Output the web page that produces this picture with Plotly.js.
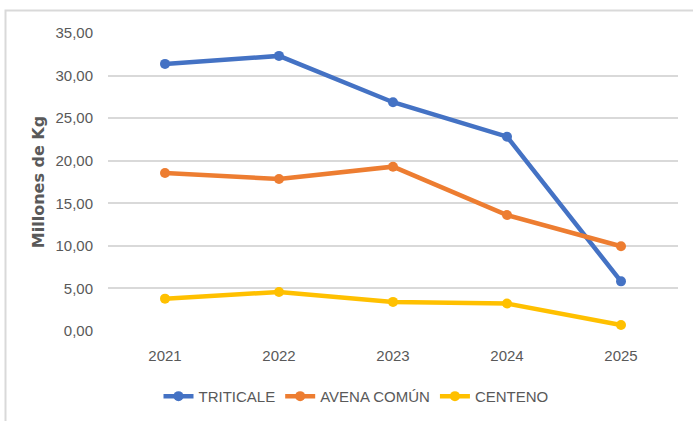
<!DOCTYPE html>
<html>
<head>
<meta charset="utf-8">
<script src="https://cdn.plot.ly/plotly-3.0.1.min.js"></script>
<style>
  html, body { margin: 0; padding: 0; background: #fff; }
  #chart { width: 693px; height: 421px; }
</style>
</head>
<body>
<div id="chart"></div>
<script>
const years = ['2021', '2022', '2023', '2024', '2025'];
const triticale = [31.37, 32.31, 26.87, 22.82, 5.83];
const avenaComun = [18.55, 17.85, 19.30, 13.62, 9.95];
const centeno = [3.80, 4.58, 3.42, 3.22, 0.70];

const seriesNames = ['TRITICALE', 'AVENA COMÚN', 'CENTENO'];
const seriesColors = ['#4472C4', '#ED7D31', '#FFC000'];
const seriesValues = [triticale, avenaComun, centeno];

const W = 693, H = 421;
const margin = { l: 108, r: 15, t: 33, b: 89.5, autoexpand: false };
const pw = W - margin.l - margin.r;
const ph = H - margin.t - margin.b;

const tickFont = { family: 'Liberation Sans, Arial, sans-serif', size: 15, color: '#595959' };
const legendFont = { family: 'Liberation Sans, Arial, sans-serif', size: 15, color: '#595959' };

const traces = seriesValues.map((vals, i) => ({
  x: years,
  y: vals,
  name: seriesNames[i],
  type: 'scatter',
  mode: 'lines+markers',
  line: { color: seriesColors[i], width: 4.5 },
  marker: { color: seriesColors[i], size: 10 },
  hoverinfo: 'skip'
}));

const layout = {
  width: W,
  height: H,
  margin: margin,
  paper_bgcolor: '#ffffff',
  plot_bgcolor: '#ffffff',
  separators: ',.',
  showlegend: true,
  legend: {
    orientation: 'h',
    x: (356 - margin.l) / pw, xanchor: 'center',
    y: -(397 - margin.t - ph) / ph, yanchor: 'middle',
    font: legendFont,
    itemwidth: 30,
    tracegroupgap: 0
  },
  xaxis: {
    type: 'category',
    range: [-0.5, 4.5],
    showgrid: false,
    zeroline: false,
    showline: false,
    ticks: '',
    tickfont: tickFont,
    ticklabelstandoff: 14,
    fixedrange: true
  },
  yaxis: {
    range: [0, 35],
    dtick: 5,
    tick0: 0,
    tickformat: '.2f',
    showgrid: true,
    gridcolor: '#d9d9d9',
    gridwidth: 2,
    zeroline: false,
    showline: false,
    ticks: '',
    tickfont: tickFont,
    ticklabelstandoff: 14,
    title: {
      text: 'Millones de Kg',
      font: { family: 'DejaVu Sans, sans-serif', size: 16, color: '#595959', weight: 'bold' },
      standoff: 6
    },
    fixedrange: true
  },
  shapes: [{
    type: 'rect',
    xref: 'paper', yref: 'paper',
    x0: (5.5 - margin.l) / pw,
    x1: (W + 10 - margin.l) / pw,
    y0: -(H + 10 - margin.t - ph) / ph,
    y1: (margin.t - 10.5 + ph) / ph,
    line: { color: '#d9d9d9', width: 2 },
    fillcolor: 'rgba(0,0,0,0)',
    layer: 'below'
  }]
};

Plotly.newPlot('chart', traces, layout, { displayModeBar: false, staticPlot: true });
</script>
</body>
</html>
